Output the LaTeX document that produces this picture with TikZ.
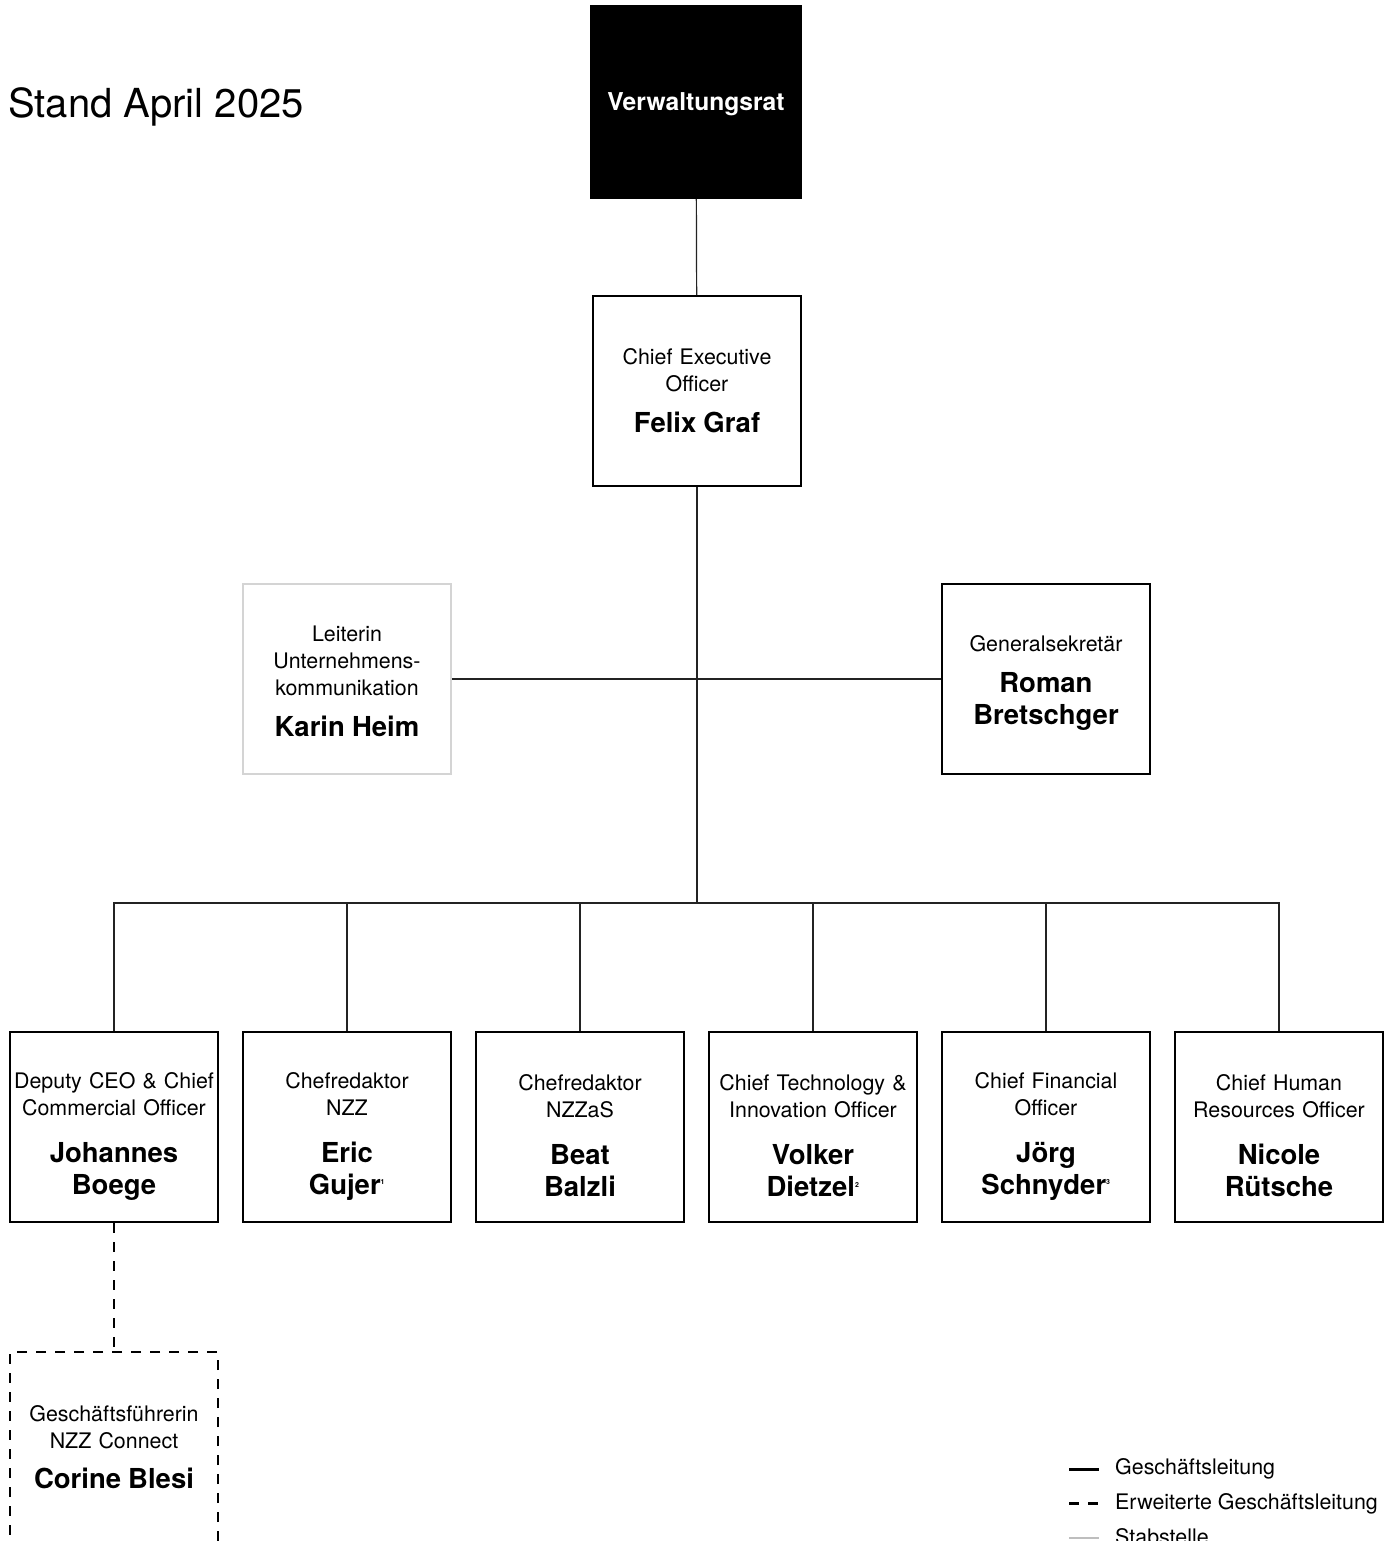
\documentclass[tikz,border=0pt]{standalone}
\usepackage{fontspec}
\setmainfont{TeX Gyre Heros}
\definecolor{stab}{RGB}{212,212,212}
\definecolor{stabline}{RGB}{190,190,190}
\definecolor{ln}{RGB}{35,35,35}
\newcommand{\namefont}{\fontsize{27.5}{32}\bfseries\selectfont}
\newcommand{\fn}[1]{\textsuperscript{\fontsize{7}{7}\selectfont #1}}
\newcommand{\topgap}[1]{\rule{0pt}{#1}}

\begin{document}
\begin{tikzpicture}[
    x=1pt, y=-1pt,
    box/.style={
        draw, line width=2pt,
        minimum width=208pt, minimum height=190pt,
        text width=204pt, align=center, inner sep=0pt,
        node font=\fontsize{21.4}{27}\selectfont
    },
    vrbox/.style={
        box, fill=black, text=white, text depth=0pt,
        node font=\fontsize{24.6}{30}\bfseries\selectfont
    },
    staffbox/.style={
        box, draw=stab, line width=2.5pt
    },
    extbox/.style={
        box, dashed, line width=2.5pt, dash pattern=on 10pt off 9pt
    },
    link/.style={
        draw=ln, line width=1.2pt
    },
    extlink/.style={
        draw=black, line width=2.5pt, dash pattern=on 10pt off 9pt
    },
    legend/.style={
        anchor=base west, inner sep=0pt,
        node font=\fontsize{21.4}{27}\selectfont
    }
]
    \useasboundingbox (0,0) rectangle (1394,1541);

    \node (title) [anchor=base west, inner sep=0pt,
        font=\fontsize{40}{48}\selectfont] at (8,118) {Stand April 2025};

    \node (vr) [vrbox, minimum width=210pt, minimum height=192pt]
        at (696,102) {Verwaltungsrat};

    \node (ceo) [box] at (697,391)
        {Chief Executive\\Officer\par\vspace{9pt}\namefont Felix Graf\par};

    \node (heim) [staffbox] at (347,679)
        {\topgap{19.5pt}Leiterin\\Unternehmens-\\kommunikation\par\vspace{9pt}\namefont Karin Heim\par};

    \node (bretschger) [box] at (1046,679)
        {\topgap{24.5pt}Generalsekretär\par\vspace{9pt}\namefont Roman\\Bretschger\par};

    \node (boege) [box] at (114,1127)
        {\topgap{34pt}Deputy CEO \& Chief\\Commercial Officer\par\vspace{15pt}\namefont Johannes\\Boege\par};
    \node (gujer) [box] at (347,1127)
        {\topgap{34pt}Chefredaktor\\NZZ\par\vspace{15pt}\namefont Eric\\Gujer\fn{1}\par};
    \node (balzli) [box] at (580,1127)
        {\topgap{34pt}Chefredaktor\\NZZaS\par\vspace{15pt}\namefont Beat\\Balzli\par};
    \node (dietzel) [box] at (813,1127)
        {\topgap{34pt}Chief Technology \&\\Innovation Officer\par\vspace{15pt}\namefont Volker\\Dietzel\fn{2}\par};
    \node (schnyder) [box] at (1046,1127)
        {\topgap{34pt}Chief Financial\\Officer\par\vspace{15pt}\namefont Jörg\\Schnyder\fn{3}\par};
    \node (ruetsche) [box] at (1279,1127)
        {\topgap{34pt}Chief Human\\Resources Officer\par\vspace{15pt}\namefont Nicole\\Rütsche\par};

    \node (blesi) [extbox] at (114,1447)
        {Geschäftsführerin\\NZZ Connect\par\vspace{8pt}\namefont Corine Blesi\par};

    \coordinate (bus) at (697,903);

    \draw [link] (vr) -- (ceo);
    \draw [link] (ceo) -- (bus);
    \draw [link] (heim) -- (bretschger);
    \draw [link] (bus) -| (boege);
    \draw [link] (bus) -| (gujer);
    \draw [link] (bus) -| (balzli);
    \draw [link] (bus) -| (dietzel);
    \draw [link] (bus) -| (schnyder);
    \draw [link] (bus) -| (ruetsche);
    \draw [extlink] (boege) -- (blesi);

    % legend
    \node (lgl) [legend] at (1115,1474.5) {Geschäftsleitung};
    \node (lext) [legend] at (1115,1509) {Erweiterte Geschäftsleitung};
    \node (lstab) [legend] at (1115,1544) {Stabstelle};
    \coordinate (gl a) at (1069,1469.5);
    \coordinate (gl b) at (1099,1469.5);
    \coordinate (ext a) at (1069,1503.5);
    \coordinate (ext b) at (1099,1503.5);
    \coordinate (stab a) at (1069,1538);
    \coordinate (stab b) at (1099,1538);
    \draw [line width=2.5pt] (gl a) -- (gl b);
    \draw [line width=2.5pt, dash pattern=on 10pt off 9pt] (ext a) -- (ext b);
    \draw [line width=2.5pt, draw=stabline] (stab a) -- (stab b);
\end{tikzpicture}
\end{document}
